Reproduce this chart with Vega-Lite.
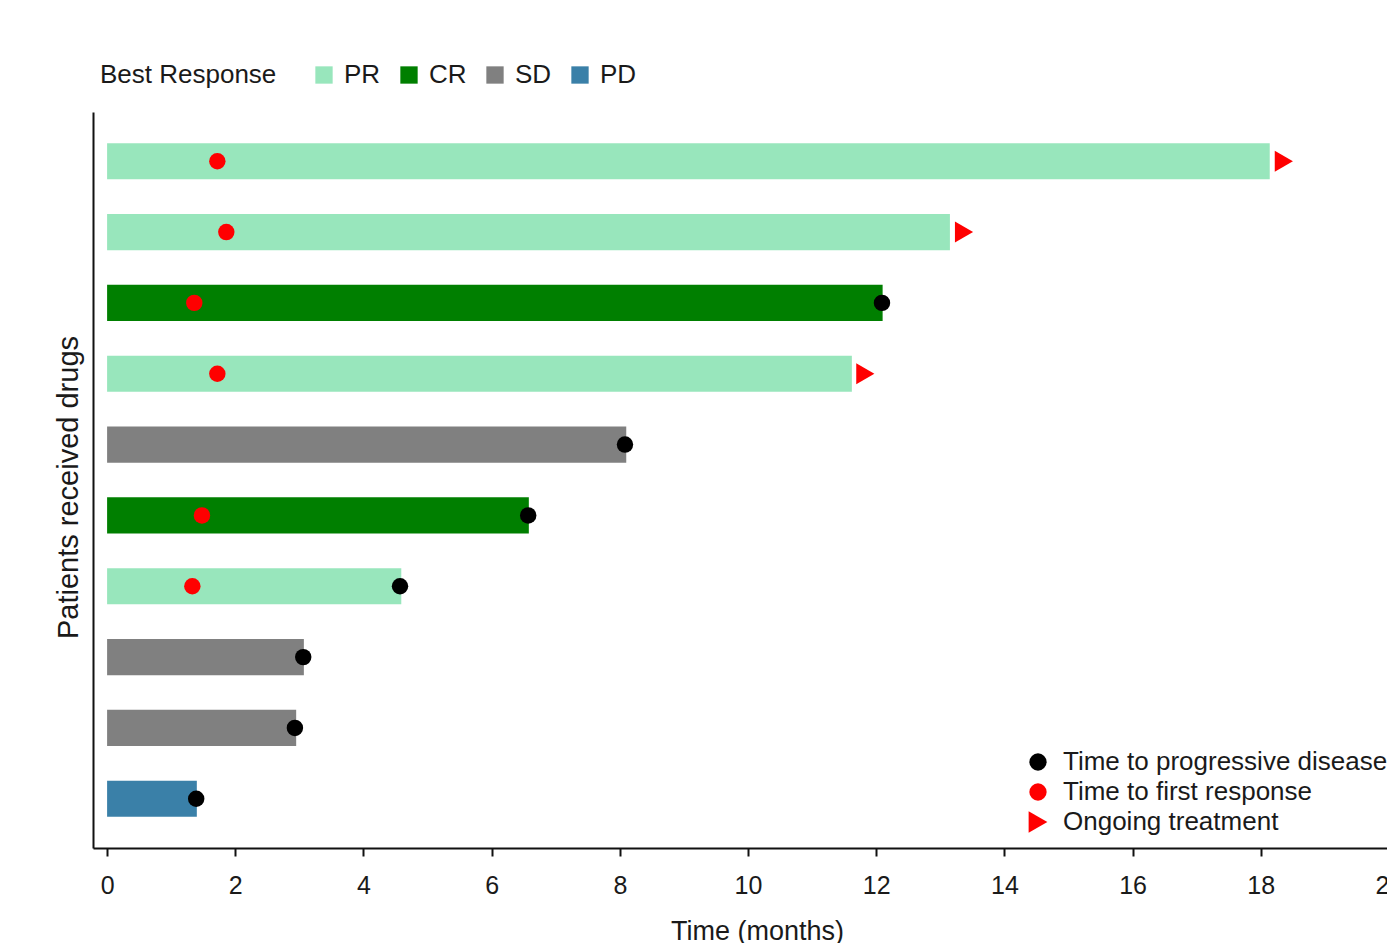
{
  "$schema": "https://vega.github.io/schema/vega-lite/v6.json",
  "autosize": "none",
  "padding": {"left": 93, "top": 112, "right": 0, "bottom": 95},
  "width": 1328,
  "height": 736,
  "background": "white",
  "config": {
    "view": {"stroke": null},
    "font": "Liberation Sans",
    "axis": {"grid": false, "domainColor": "#111111", "domainWidth": 2, "tickColor": "#111111", "tickWidth": 2, "labelColor": "#1a1a1a", "titleColor": "#1a1a1a", "labelFont": "Liberation Sans", "titleFont": "Liberation Sans", "titleFontWeight": "normal"},
    "legend": {"labelFont": "Liberation Sans", "titleFont": "Liberation Sans", "labelColor": "#1a1a1a", "titleColor": "#1a1a1a", "titleFontWeight": "normal", "labelLimit": 600}
  },
  "datasets": {
    "patients": [
      {"patient": "P1", "response": "PR", "end": 18.14},
      {"patient": "P2", "response": "PR", "end": 13.15},
      {"patient": "P3", "response": "CR", "end": 12.1},
      {"patient": "P4", "response": "PR", "end": 11.62},
      {"patient": "P5", "response": "SD", "end": 8.1},
      {"patient": "P6", "response": "CR", "end": 6.58},
      {"patient": "P7", "response": "PR", "end": 4.59},
      {"patient": "P8", "response": "SD", "end": 3.07},
      {"patient": "P9", "response": "SD", "end": 2.95},
      {"patient": "P10", "response": "PD", "end": 1.4}
    ],
    "events": [
      {"patient": "P1", "event": "Time to first response", "t": 1.72},
      {"patient": "P1", "event": "Ongoing treatment", "t": 18.36},
      {"patient": "P2", "event": "Time to first response", "t": 1.86},
      {"patient": "P2", "event": "Ongoing treatment", "t": 13.37},
      {"patient": "P3", "event": "Time to first response", "t": 1.36},
      {"patient": "P3", "event": "Time to progressive disease", "t": 12.09},
      {"patient": "P4", "event": "Time to first response", "t": 1.72},
      {"patient": "P4", "event": "Ongoing treatment", "t": 11.83},
      {"patient": "P5", "event": "Time to progressive disease", "t": 8.08},
      {"patient": "P6", "event": "Time to first response", "t": 1.48},
      {"patient": "P6", "event": "Time to progressive disease", "t": 6.57},
      {"patient": "P7", "event": "Time to first response", "t": 1.33},
      {"patient": "P7", "event": "Time to progressive disease", "t": 4.57},
      {"patient": "P8", "event": "Time to progressive disease", "t": 3.06},
      {"patient": "P9", "event": "Time to progressive disease", "t": 2.93},
      {"patient": "P10", "event": "Time to progressive disease", "t": 1.39}
    ]
  },
  "layer": [
    {
      "data": {"name": "patients"},
      "mark": {"type": "bar", "opacity": 1},
      "encoding": {
        "y": {"field": "patient", "type": "nominal", "sort": ["P1","P2","P3","P4","P5","P6","P7","P8","P9","P10"],
              "scale": {"paddingInner": 0.49, "paddingOuter": 0.44},
              "axis": {"labels": false, "ticks": false, "title": "Patients received drugs", "titleFontSize": 29, "titlePadding": 10, "titleY": 375}},
        "x": {"field": "end", "type": "quantitative",
              "scale": {"domain": [-0.22, 20.5], "nice": false, "zero": false},
              "axis": {"values": [0,2,4,6,8,10,12,14,16,18,20], "format": "d", "tickSize": 8, "labelFontSize": 25, "labelPadding": 17, "title": "Time (months)", "titleFontSize": 27, "titlePadding": 20}},
        "fill": {"field": "response", "type": "nominal",
                 "scale": {"domain": ["PR","CR","SD","PD"], "range": ["#98e6bc", "#007f00", "#808080", "#3a80a8"]},
                 "legend": {"title": "Best Response", "orient": "none", "legendX": 7, "legendY": -50, "direction": "horizontal", "titleOrient": "left", "titleFontSize": 26, "titlePadding": 34, "labelFontSize": 26, "labelOffset": 7, "symbolType": "square", "symbolSize": 300, "symbolStrokeWidth": 0, "columnPadding": 15}}
      }
    },
    {
      "data": {"name": "events"},
      "mark": {"type": "point", "filled": true, "opacity": 1, "strokeWidth": 0},
      "encoding": {
        "y": {"field": "patient", "type": "nominal", "sort": ["P1","P2","P3","P4","P5","P6","P7","P8","P9","P10"]},
        "x": {"field": "t", "type": "quantitative"},
        "size": {"condition": {"test": "datum.event === 'Ongoing treatment'", "value": 440}, "value": 270},
        "color": {"field": "event", "type": "nominal",
                  "scale": {"domain": ["Time to progressive disease", "Time to first response", "Ongoing treatment"], "range": ["#000000", "#ff0000", "#ff0000"]},
                  "legend": {"title": null, "orient": "none", "legendX": 932, "legendY": 637, "labelFontSize": 26, "labelOffset": 12, "symbolSize": 300, "rowPadding": 4, "symbolOpacity": 1, "symbolStrokeWidth": 0,
                             "encode": {"symbols": {"update": {"size": {"signal": "datum.value === 'Ongoing treatment' ? 470 : 300"}}}}}},
        "shape": {"field": "event", "type": "nominal",
                  "scale": {"domain": ["Time to progressive disease", "Time to first response", "Ongoing treatment"], "range": ["circle", "circle", "triangle-right"]},
                  "legend": {"title": null, "orient": "none", "legendX": 932, "legendY": 637, "labelFontSize": 26, "labelOffset": 12, "symbolSize": 300, "rowPadding": 4, "symbolOpacity": 1, "symbolStrokeWidth": 0,
                             "encode": {"symbols": {"update": {"size": {"signal": "datum.value === 'Ongoing treatment' ? 470 : 300"}}}}}}
      }
    }
  ]
}
